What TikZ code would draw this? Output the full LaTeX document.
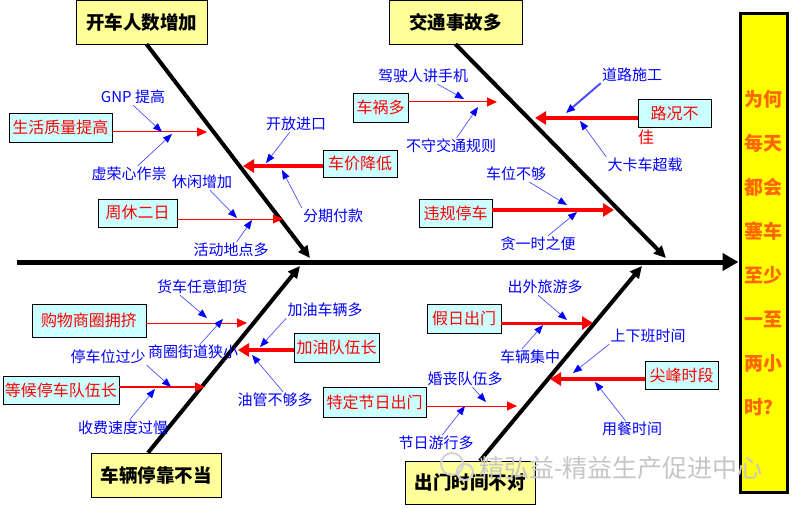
\documentclass[tikz,border=0pt]{standalone}
\usepackage{amsmath}
\usepackage{fontspec}
\setmainfont{Noto Sans CJK SC}
\usepackage{tikz}
\usetikzlibrary{arrows.meta,positioning}

\definecolor{headfill}{RGB}{255,255,153}
\definecolor{causefill}{RGB}{204,255,255}
\definecolor{goalfill}{RGB}{255,255,0}
\definecolor{goaltext}{RGB}{255,102,0}
\definecolor{subline}{RGB}{80,80,255}

\begin{document}
\begin{tikzpicture}[x=1pt,y=-1pt,
    head/.style={draw,fill=headfill,minimum width=131pt,minimum height=44pt,inner sep=0pt,font=\fontsize{18.5}{20}\selectfont\bfseries},
    cause/.style={draw,fill=causefill,text=red,minimum height=28pt,inner sep=1pt,font=\fontsize{16}{18}\selectfont},
    sub/.style={text=blue,inner sep=1pt,font=\fontsize{15}{17}\selectfont},
    goal/.style={draw,line width=3pt,fill=goalfill,text=goaltext,minimum width=47pt,minimum height=478pt,align=center,font=\fontsize{19}{44}\selectfont\bfseries},
    bone/.style={line width=4pt,-{Triangle[length=12pt,width=11pt]}},
    spine/.style={line width=5pt,-{Triangle[length=16pt,width=17pt]}},
    thin cause/.style={red,line width=1pt,-{Triangle[length=10pt,width=9pt]}},
    thick cause/.style={red,line width=4pt,-{Triangle[length=11pt,width=13pt]}},
    subarrow/.style={subline,line width=0.7pt,-{Triangle[length=9pt,width=7pt,color=blue]}}]
  \useasboundingbox (0,0) rectangle (793,508);

  % effect box and spine
  \node[goal] (g_0) at (763.5,253) {为何\\每天\\都会\\塞车\\至少\\一至\\两小\\时？};
  \coordinate (s_0) at (17,262);
  \draw[spine] (s_0) -- (g_0.west |- s_0);

  % main causes
  \node[head] (h_1) at (141.5,22) {开车人数增加};
  \node[head,minimum width=133pt] (h_2) at (455.5,22) {交通事故多};
  \node[head,minimum width=130pt] (h_3) at (156,475) {车辆停靠不当};
  \node[head,minimum width=130pt,minimum height=43pt] (h_4) at (470,482.5) {出门时间不对};
  \coordinate (j_1) at (310,258);
  \coordinate (j_2) at (666,258);
  \coordinate (j_3) at (300,266);
  \coordinate (j_4) at (642,266);
  \draw[bone] ([xshift=5pt]h_1.south) -- (j_1);
  \draw[bone] (h_2.south) -- (j_2);
  \draw[bone] ([xshift=-8pt]h_3.north) -- (j_3);
  \draw[bone] ([xshift=10pt]h_4.north) -- (j_4);

  % second level causes
  \node[cause,minimum width=103pt,minimum height=29pt] (c_1) at (60.5,127.5) {生活质量提高};
  \node[cause,minimum width=74pt,minimum height=27pt] (c_2) at (360,163.5) {车价降低};
  \node[cause,minimum width=79pt] (c_3) at (137.5,213) {周休二日};
  \node[cause,minimum width=55pt,minimum height=29pt] (c_4) at (380.5,107.5) {车祸多};
  \node[cause,minimum width=73pt] (c_5) at (674.5,113) {路况不};
  \node[sub,text=red,font=\fontsize{16}{18}\selectfont] (p_5) at (646,137) {佳};
  \node[cause,minimum width=73pt] (c_6) at (455.5,213) {违规停车};
  \node[cause,minimum width=114pt,minimum height=33pt] (c_7) at (89,320.5) {购物商圈拥挤};
  \node[cause,minimum width=85pt,minimum height=29pt] (c_8) at (336.5,347.5) {加油队伍长};
  \node[cause,minimum width=116pt] (c_9) at (61,390) {等候停车队伍长};
  \node[cause,minimum width=74pt,minimum height=29pt] (c_10) at (464,318.5) {假日出门};
  \node[cause,minimum width=73pt] (c_11) at (681.5,375) {尖峰时段};
  \node[cause,minimum width=103pt,minimum height=30pt] (c_12) at (374.5,402) {特定节日出门};

  \coordinate (r_1) at (207,132);
  \coordinate (r_2) at (243,166);
  \coordinate (r_3) at (283,219);
  \coordinate (r_4) at (497,102);
  \coordinate (r_5) at (535,118);
  \coordinate (r_6) at (614,210);
  \coordinate (r_7) at (247,323);
  \coordinate (r_8) at (238,350);
  \coordinate (r_9) at (205,387);
  \coordinate (r_10) at (593,323);
  \coordinate (r_11) at (550,379);
  \coordinate (r_12) at (517,406);
  \draw[thin cause] (c_1.east |- r_1) -- (r_1);
  \draw[thick cause] (c_2.west |- r_2) -- (r_2);
  \draw[thin cause] (c_3.east |- r_3) -- (r_3);
  \draw[thin cause] (c_4.east |- r_4) -- (r_4);
  \draw[thick cause] (c_5.west |- r_5) -- (r_5);
  \draw[thick cause,line width=3pt] (c_6.east |- r_6) -- (r_6);
  \draw[thin cause] (c_7.east |- r_7) -- (r_7);
  \draw[thick cause] (c_8.west |- r_8) -- (r_8);
  \draw[thin cause,line width=1.5pt] (c_9.east |- r_9) -- (r_9);
  \draw[thick cause,line width=3pt] (c_10.east |- r_10) -- (r_10);
  \draw[thick cause] (c_11.west |- r_11) -- (r_11);
  \draw[thin cause] (c_12.east |- r_12) -- (r_12);

  % third level causes
  \node[sub] (l_1) at (133,97) {GNP 提高};
  \node[sub] (l_2) at (129,174) {虚荣心作祟};
  \node[sub] (l_3) at (296,124) {开放进口};
  \node[sub] (l_4) at (333,216) {分期付款};
  \node[sub] (l_5) at (202,182) {休闲增加};
  \node[sub] (l_6) at (231,250) {活动地点多};
  \node[sub] (l_7) at (423,76) {驾驶人讲手机};
  \node[sub] (l_8) at (451,146) {不守交通规则};
  \node[sub] (l_9) at (632,75) {道路施工};
  \node[sub] (l_10) at (645,165) {大卡车超载};
  \node[sub] (l_11) at (516,174) {车位不够};
  \node[sub] (l_12) at (538,244) {贪一时之便};
  \node[sub] (l_13) at (202,287) {货车任意卸货};
  \node[sub] (l_14) at (193,352) {商圈街道狭小};
  \node[sub] (l_15) at (325,310) {加油车辆多};
  \node[sub] (l_16) at (275,400) {油管不够多};
  \node[sub] (l_17) at (108,357) {停车位过少};
  \node[sub] (l_18) at (123,428) {收费速度过慢};
  \node[sub] (l_19) at (545,287) {出外旅游多};
  \node[sub] (l_20) at (530,357) {车辆集中};
  \node[sub] (l_21) at (648,336) {上下班时间};
  \node[sub] (l_22) at (632,429) {用餐时间};
  \node[sub] (l_23) at (465,379) {婚丧队伍多};
  \node[sub] (l_24) at (436,443) {节日游行多};

  \coordinate (a_1) at (162,132);
  \coordinate (a_2) at (172,134);
  \coordinate (a_3) at (266,163);
  \coordinate (a_4) at (282,170);
  \coordinate (a_5) at (237,218);
  \coordinate (a_6) at (252,220);
  \coordinate (a_7) at (464,99);
  \coordinate (a_8) at (478,107);
  \coordinate (a_9) at (566,113);
  \coordinate (a_10) at (580,121);
  \coordinate (a_11) at (567,205);
  \coordinate (a_12) at (577,212);
  \coordinate (a_13) at (207,318);
  \coordinate (a_14) at (223,319);
  \coordinate (a_15) at (260,347);
  \coordinate (a_16) at (252,355);
  \coordinate (a_17) at (171,387);
  \coordinate (a_18) at (155,389);
  \coordinate (a_19) at (567,320);
  \coordinate (a_20) at (543,325);
  \coordinate (a_21) at (573,373);
  \coordinate (a_22) at (595,382);
  \coordinate (a_23) at (486,402);
  \coordinate (a_24) at (465,406);
  \draw[subarrow] (l_1.south) -- (a_1);
  \draw[subarrow] (l_2) -- (a_2);
  \draw[subarrow] (l_3) -- (a_3);
  \draw[subarrow] (l_4.north west) -- (a_4);
  \draw[subarrow] (l_5) -- (a_5);
  \draw[subarrow] (l_6) -- (a_6);
  \draw[subarrow] (l_7) -- (a_7);
  \draw[subarrow] (l_8) -- (a_8);
  \draw[subarrow,line width=2pt] (l_9.south west) -- (a_9);
  \draw[subarrow] (l_10.north west) -- (a_10);
  \draw[subarrow] (l_11) -- (a_11);
  \draw[subarrow] (l_12) -- (a_12);
  \draw[subarrow] ([xshift=-22pt]l_13.south) -- (a_13);
  \draw[subarrow] (l_14) -- (a_14);
  \draw[subarrow] (l_15.south west) -- (a_15);
  \draw[subarrow] ([xshift=8pt]l_16.north) -- (a_16);
  \draw[subarrow] (l_17.south east) -- (a_17);
  \draw[subarrow] (l_18) -- (a_18);
  \draw[subarrow] ([xshift=-7pt]l_19.south) -- (a_19);
  \draw[subarrow] ([xshift=-8pt]l_20.north) -- (a_20);
  \draw[subarrow] (l_21.south west) -- (a_21);
  \draw[subarrow] (l_22) -- (a_22);
  \draw[subarrow] (l_23) -- (a_23);
  \draw[subarrow] (l_24) -- (a_24);

  % watermark
  \draw[gray!35,line width=2pt] (452,464) circle (11) (465,472) circle (8);
  \node[text=gray!45,font=\fontsize{25}{27}\selectfont] (w_0) at (621,468) {精弘益-精益生产促进中心};
\end{tikzpicture}
\end{document}
